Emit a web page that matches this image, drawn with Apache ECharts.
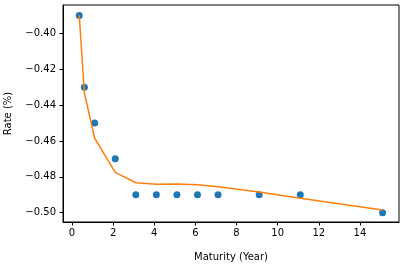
<!DOCTYPE html>
<html>
<head>
<meta charset="utf-8">
<script src="https://cdn.jsdelivr.net/npm/echarts@6/dist/echarts.min.js"></script>
<style>html,body{margin:0;padding:0;background:#fff}#c{width:402px;height:265px}</style>
</head>
<body>
<div id="c"></div>
<script>
const maturities = [0.35, 0.6, 1.1, 2.1, 3.1, 4.1, 5.1, 6.1, 7.1, 9.1, 11.1, 15.1];
const observedRates = [-0.39, -0.43, -0.45, -0.47, -0.49, -0.49, -0.49, -0.49, -0.49, -0.49, -0.49, -0.50];
const fittedRates = [-0.39, -0.4334, -0.4585, -0.4775, -0.4833, -0.4842, -0.484, -0.4844, -0.4855, -0.4885, -0.492, -0.4985];
const xTicks = [0, 2, 4, 6, 8, 10, 12, 14];
const yTicks = [-0.50, -0.48, -0.46, -0.44, -0.42, -0.40];

const font = 'DejaVu Sans';
const chart = echarts.init(document.getElementById('c'), null, {renderer: 'canvas'});
chart.setOption({
  animation: false,
  grid: {left: 63, right: 3, top: 5, bottom: 43, containLabel: false, outerBoundsMode: 'none',
         show: true, borderColor: '#000', borderWidth: 1, backgroundColor: 'transparent'},
  xAxis: {
    type: 'value', min: -0.44, max: 15.9,
    name: 'Maturity (Year)', nameLocation: 'middle', nameGap: 30,
    nameTextStyle: {fontFamily: font, fontSize: 10, color: '#000'},
    axisLine: {show: true, onZero: false, lineStyle: {color: '#000', width: 1}},
    axisTick: {show: true, inside: false, length: 3.5, lineStyle: {color: '#000'}, customValues: xTicks},
    axisLabel: {fontFamily: font, fontSize: 10, color: '#000', margin: 6, customValues: xTicks, formatter: v => String(v)},
    splitLine: {show: false}
  },
  yAxis: {
    type: 'value', min: -0.5052, max: -0.3842,
    name: 'Rate (%)', nameLocation: 'middle', nameGap: 50, nameRotate: 90,
    nameTextStyle: {fontFamily: font, fontSize: 10, color: '#000'},
    axisLine: {show: true, onZero: false, lineStyle: {color: '#000', width: 1}},
    axisTick: {show: true, inside: false, length: 3.5, lineStyle: {color: '#000'}, customValues: yTicks},
    axisLabel: {fontFamily: font, fontSize: 10, color: '#000', margin: 7, customValues: yTicks,
      formatter: v => (v < 0 ? '\u2212' : '') + Math.abs(v).toFixed(2)},
    splitLine: {show: false}
  },
  series: [
    {type: 'scatter', data: maturities.map((m, i) => [m, observedRates[i]]), symbolSize: 7,
     itemStyle: {color: '#1f77b4', opacity: 1}, z: 2},
    {type: 'line', data: maturities.map((m, i) => [m, fittedRates[i]]), showSymbol: false, symbol: 'none',
     lineStyle: {color: '#ff7f0e', width: 1.5}, itemStyle: {color: '#ff7f0e'}, z: 3}
  ]
});
</script>
</body>
</html>
